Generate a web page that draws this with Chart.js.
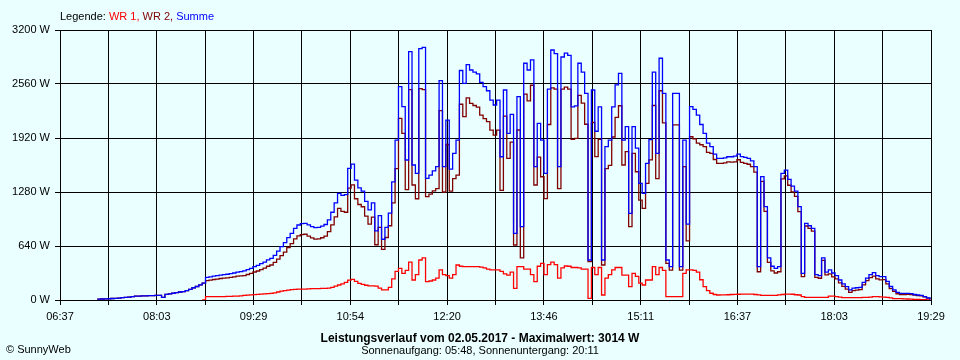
<!DOCTYPE html>
<html><head><meta charset="utf-8">
<script src="https://cdn.jsdelivr.net/npm/chart.js@4.4.1/dist/chart.umd.min.js"></script>
<style>html,body{margin:0;padding:0;background:#eaffff;}canvas{display:block;background:#eaffff;}</style>
</head><body>
<canvas id="c" width="960" height="360"></canvas>
<script>
// ---- data ----
const xTickLabels = ['06:37','08:03','09:29','10:54','12:20','13:46','15:11','16:37','18:03','19:29'];
const yTickValues = [0, 640, 1280, 1920, 2560, 3200];
const axisStart = '06:37';
const axisEnd = '19:29';
const sampleStart = '07:10';   // first sample time
const sampleStepMin = 3;        // sampling interval (minutes)
const seriesNames = ['WR 1', 'WR 2', 'Summe'];

const summe = [
10,12,14,15,18,20,22,27,30,35,
40,45,47,48,50,52,53,55,55,30,
67,72,80,88,95,100,110,125,145,160,
180,200,269,275,283,288,295,300,305,312,
320,330,336,345,360,375,395,410,430,450,
475,494,530,580,632,680,740,790,850,889,
905,909,890,870,857,860,875,895,950,1040,
1150,1264,1240,1250,1560,1610,1420,1330,1290,1170,
1067,1150,820,1000,720,860,1030,1400,1896,2528,
2291,1659,2943,1600,1500,2980,2993,1442,1480,1530,
1580,2600,1580,2133,1550,1738,1896,2720,2568,2790,
2726,2700,2680,2580,2530,2480,2370,2311,2370,1698,
2489,1975,2200,790,2410,869,2806,2726,2845,1580,
2093,1896,1501,2500,2963,2920,1580,2880,2925,2900,
2288,2300,2806,2700,2450,474,2489,2000,2290,474,
1817,1896,2288,2550,2687,1896,2054,1027,2054,1800,
1383,1264,1620,1900,2700,1738,2865,2450,474,395,
2450,2450,395,1896,900,2291,2260,2190,2080,1975,
1860,1817,1730,1679,1679,1685,1698,1698,1705,1730,
1700,1690,1679,1650,1580,395,1462,1106,500,400,
375,395,1500,1540,1430,1350,1290,1106,316,909,
880,849,300,290,500,330,356,320,290,237,
190,158,119,140,145,150,210,260,300,324,
290,277,277,220,160,119,90,79,79,79,
75,65,59,55,40,25,5];

const wr1 = [
null,null,null,null,null,null,null,null,null,null,
null,null,null,null,null,null,null,null,null,null,
null,null,null,null,null,null,null,null,null,null,
null,0,39,40,40,40,40,41,42,43,
45,47,50,55,58,60,63,66,70,72,
75,79,85,95,105,112,118,123,126,128,
130,130,132,134,135,136,137,138,140,150,
165,178,190,210,235,245,220,198,185,175,
168,168,165,140,120,119,150,250,340,375,
316,350,450,237,300,474,500,217,225,237,
260,356,300,290,260,300,415,400,395,395,
395,395,395,390,380,365,356,356,356,340,
310,296,330,138,395,395,367,367,300,217,
400,435,300,420,450,420,260,380,403,400,
385,385,380,367,367,20,385,300,385,59,
260,300,356,385,385,296,296,158,316,280,
200,178,237,237,395,300,385,350,40,40,
40,40,40,316,356,356,350,330,240,158,
110,80,65,59,60,60,62,65,67,68,
70,70,70,70,65,60,55,55,55,55,
55,60,65,70,70,68,62,59,40,32,
32,32,32,32,32,32,47,47,40,35,
28,28,28,28,28,28,30,30,35,40,
40,38,35,30,25,16,16,16,14,12,
10,8,6,5,4,2,0];

const wr2 = [
10,12,14,15,18,20,22,27,30,35,
40,45,47,48,50,52,53,55,55,30,
67,72,80,88,95,100,110,125,145,160,
180,200,230,235,243,248,255,259,263,269,
275,283,286,290,302,315,332,344,360,378,
400,415,445,485,527,568,622,667,724,761,
775,779,758,736,722,724,738,757,810,890,
985,1086,1050,1040,1325,1365,1200,1132,1105,995,
899,982,655,860,600,741,880,1150,1556,2153,
1975,1309,2493,1363,1200,2506,2493,1225,1255,1293,
1320,2244,1280,1843,1290,1438,1481,2320,2173,2395,
2331,2305,2285,2190,2150,2115,2014,1955,2014,1300,
2179,1679,1870,652,2015,500,2439,2359,2545,1363,
1693,1461,1201,2080,2513,2500,1320,2500,2522,2500,
1903,1915,2426,2333,2083,454,2104,1700,1905,415,
1557,1596,1932,2165,2302,1600,1758,869,1738,1520,
1183,1086,1383,1660,2305,1438,2480,2100,434,355,
2075,2075,355,1580,700,1935,1910,1860,1840,1817,
1750,1737,1665,1620,1619,1625,1636,1633,1638,1662,
1630,1620,1609,1580,1515,335,1407,1051,445,345,
320,335,1435,1470,1360,1282,1228,1047,276,877,
848,817,268,258,470,298,309,273,250,202,
162,130,91,112,117,122,180,230,265,284,
250,239,242,190,135,103,74,63,65,67,
65,57,53,50,36,23,5];

// ---- helpers ----
const toMin = s => { const [h, m] = s.split(':').map(Number); return h * 60 + m; };
const tMin = toMin(axisStart), tMax = toMin(axisEnd);
const t0 = toMin(sampleStart);
const pts = arr => arr.map((v, i) => ({ x: t0 + i * sampleStepMin, y: v }));

const colors = { wr1: '#ff0000', wr2: '#800000', summe: '#0000ff' };
const FONT = '"Liberation Sans", Arial, sans-serif';

const textPlugin = {
  id: 'texts',
  afterDraw(chart) {
    const ctx = chart.ctx;
    ctx.save();
    ctx.textBaseline = 'alphabetic';
    ctx.font = '11px ' + FONT;
    // legend
    const parts = [['Legende: ', '#000000'], [seriesNames[0] + ', ', colors.wr1], [seriesNames[1] + ', ', colors.wr2], [seriesNames[2], colors.summe]];
    let x = 60;
    parts.forEach(([t, c]) => { ctx.fillStyle = c; ctx.textAlign = 'left'; ctx.fillText(t, x, 20); x += ctx.measureText(t).width; });
    // copyright
    ctx.fillStyle = '#000';
    ctx.fillText('\u00A9 SunnyWeb', 6, 353);
    // title
    ctx.textAlign = 'center';
    ctx.font = 'bold 12px ' + FONT;
    ctx.fillText('Leistungsverlauf vom 02.05.2017 - Maximalwert: 3014 W', 480, 342);
    ctx.font = '11px ' + FONT;
    ctx.fillText('Sonnenaufgang: 05:48, Sonnenuntergang: 20:11', 480, 354);
    ctx.restore();
  }
};

new Chart(document.getElementById('c'), {
  type: 'line',
  data: {
    datasets: [
      { label: seriesNames[2], data: pts(summe), borderColor: colors.summe, order: 0 },
      { label: seriesNames[1], data: pts(wr2), borderColor: colors.wr2, order: 1 },
      { label: seriesNames[0], data: pts(wr1), borderColor: colors.wr1, order: 2 }
    ].map(d => Object.assign(d, { borderWidth: 1.3, pointRadius: 0, stepped: true, fill: false, spanGaps: false, tension: 0 }))
  },
  options: {
    responsive: false,
    animation: false,
    devicePixelRatio: 1,
    layout: { padding: { left: 0, right: 29, top: 30, bottom: 35 } },
    plugins: { legend: { display: false }, tooltip: { enabled: false }, title: { display: false } },
    scales: {
      x: {
        type: 'linear', min: tMin, max: tMax,
        afterBuildTicks: s => {
          const n = (xTickLabels.length - 1) * 2;
          s.ticks = Array.from({ length: n + 1 }, (_, k) => ({ value: tMin + k * (tMax - tMin) / n }));
        },
        afterFit: s => { s.height = 25; },
        ticks: {
          autoSkip: false, maxRotation: 0, minRotation: 0, color: '#000', padding: 5,
          font: { family: FONT, size: 11 },
          callback: (v, i) => (i % 2 === 0 ? xTickLabels[i / 2] : '')
        },
        grid: { color: '#000', lineWidth: 1, tickLength: 5, drawTicks: true },
        border: { color: '#000', width: 1 }
      },
      y: {
        min: 0, max: 3200,
        afterBuildTicks: s => { s.ticks = yTickValues.map(v => ({ value: v })); },
        afterFit: s => { s.width = 60; },
        ticks: { color: '#000', padding: 5, font: { family: FONT, size: 11 }, callback: v => v + ' W' },
        grid: { color: '#000', lineWidth: 1, tickLength: 5 },
        border: { color: '#000', width: 1 }
      }
    }
  },
  plugins: [textPlugin]
});
</script>
</body></html>
